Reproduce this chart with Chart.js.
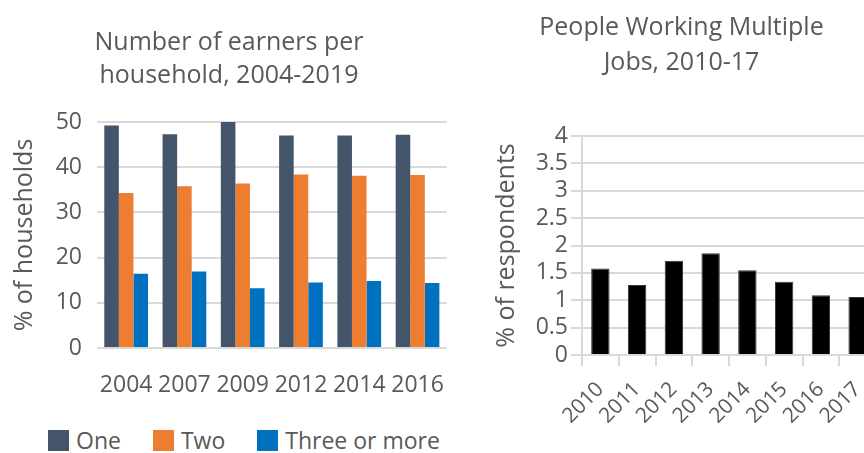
<!DOCTYPE html>
<html>
<head>
<meta charset="utf-8">
<script src="https://cdn.jsdelivr.net/npm/chart.js@4"></script>
<style>
  body { margin: 0; width: 864px; height: 453px; overflow: hidden; background: #fff; position: relative; }
  #left { position: absolute; left: 0; top: 0; width: 460px; height: 400px; }
  #right { position: absolute; left: 487px; top: 0; width: 412px; height: 453px; }
  #legend { position: absolute; left: 48px; top: 424px; }
</style>
</head>
<body>
<div id="left"><canvas id="earners"></canvas></div>
<div id="legend"></div>
<div id="right"><canvas id="jobs"></canvas></div>
<script>
const TEXT = '#595959';
const GRID = '#d9d9d9';
const FONT = "'Open Sans', sans-serif";

// number of earners per household, % of households
const surveyYears = ['2004', '2007', '2009', '2012', '2014', '2016'];
const oneEarner = [49.2, 47.3, 50.0, 47.0, 47.0, 47.2];
const twoEarners = [34.3, 35.8, 36.4, 38.4, 38.1, 38.3];
const threePlus = [16.4, 16.9, 13.2, 14.5, 14.8, 14.4];
const earnerLabels = ['One', 'Two', 'Three or more'];
const COLOURS = ['#44546a', '#ed7d31', '#0070c0'];

// people working multiple jobs, % of respondents
const jobYears = ['2010', '2011', '2012', '2013', '2014', '2015', '2016', '2017'];
const multipleJobs = [1.58, 1.28, 1.72, 1.86, 1.55, 1.34, 1.09, 1.06];

Chart.defaults.font.family = FONT;
Chart.defaults.color = TEXT;
Chart.defaults.animation = false;

function makeLegend(labels, id) {
  const legendContainer = document.getElementById(id);
  const listContainer = document.createElement('ul');
  listContainer.style.display = 'flex';
  listContainer.style.flexDirection = 'row';
  listContainer.style.margin = 0;
  listContainer.style.padding = 0;
  listContainer.style.listStyle = 'none';
  legendContainer.appendChild(listContainer);

  labels.forEach((label, i) => {
    const li = document.createElement('li');
    li.style.alignItems = 'center';
    li.style.display = 'flex';
    li.style.flexDirection = 'row';
    li.style.marginRight = i < labels.length - 1 ? '32px' : 0;

    const boxSpan = document.createElement('span');
    boxSpan.style.background = COLOURS[i];
    boxSpan.style.display = 'inline-block';
    boxSpan.style.height = '21px';
    boxSpan.style.width = '21px';
    boxSpan.style.marginRight = '7px';

    const textContainer = document.createElement('p');
    textContainer.style.margin = 0;
    textContainer.style.padding = 0;
    textContainer.style.color = TEXT;
    textContainer.style.font = '23px ' + FONT;
    textContainer.appendChild(document.createTextNode(label));

    li.appendChild(boxSpan);
    li.appendChild(textContainer);
    listContainer.appendChild(li);
  });
}

new Chart(document.getElementById('earners'), {
  type: 'bar',
  data: {
    labels: surveyYears,
    datasets: [oneEarner, twoEarners, threePlus].map((values, i) => ({
      label: earnerLabels[i],
      data: values,
      backgroundColor: COLOURS[i],
      categoryPercentage: 0.75,
      barPercentage: 1.0,
    })),
  },
  options: {
    responsive: true,
    maintainAspectRatio: false,
    layout: { padding: { right: 2 } },
    plugins: {
      legend: { display: false },
      tooltip: { enabled: false },
      title: {
        display: true,
        text: ['Number of earners per', 'household, 2004-2019'],
        color: TEXT,
        font: { size: 25, weight: 'normal', lineHeight: 1.32 },
        padding: { top: 26, bottom: 30 },
      },
    },
    scales: {
      x: {
        grid: { display: false },
        border: { display: false },
        ticks: { font: { size: 23 }, padding: 16, maxRotation: 0, autoSkip: false },
        afterFit: scale => { scale.height = 52; },
      },
      y: {
        min: 0,
        max: 50,
        ticks: { stepSize: 10, font: { size: 23 }, padding: 15 },
        grid: { color: GRID, lineWidth: 2, drawTicks: false },
        border: { display: false },
        title: { display: true, text: '% of households', font: { size: 25 }, padding: { top: 10, bottom: 0 } },
        afterFit: scale => { scale.width = 97; },
      },
    },
  },
});

makeLegend(earnerLabels, 'legend');

new Chart(document.getElementById('jobs'), {
  type: 'bar',
  data: {
    labels: jobYears,
    datasets: [{
      label: 'Multiple jobs',
      data: multipleJobs,
      backgroundColor: '#000',
      borderColor: '#333',
      borderWidth: 1,
      categoryPercentage: 0.5,
      barPercentage: 1.0,
    }],
  },
  options: {
    responsive: true,
    maintainAspectRatio: false,
    layout: { padding: { right: 23 } },
    plugins: {
      legend: { display: false },
      tooltip: { enabled: false },
      title: {
        display: true,
        text: ['People Working Multiple', 'Jobs, 2010-17'],
        color: TEXT,
        font: { size: 25, weight: 'normal', lineHeight: 1.4 },
        padding: { top: 10, bottom: 56 },
      },
    },
    scales: {
      x: {
        grid: { drawOnChartArea: false, color: GRID, lineWidth: 2, tickLength: 11 },
        border: { color: GRID, width: 2 },
        ticks: { font: { size: 21 }, minRotation: 45, maxRotation: 45, padding: 11, autoSkip: false },
        afterFit: scale => { scale.height = 98; },
      },
      y: {
        min: 0,
        max: 4,
        ticks: { stepSize: 0.5, font: { size: 23 }, padding: 3, autoSkip: false, callback: value => String(value) },
        grid: { color: GRID, lineWidth: 2, tickLength: 11 },
        border: { color: GRID, width: 2 },
        title: { display: true, text: '% of respondents', font: { size: 25 }, padding: { top: 5, bottom: 0 } },
        afterFit: scale => { scale.width = 95; },
      },
    },
  },
});
</script>
</body>
</html>
